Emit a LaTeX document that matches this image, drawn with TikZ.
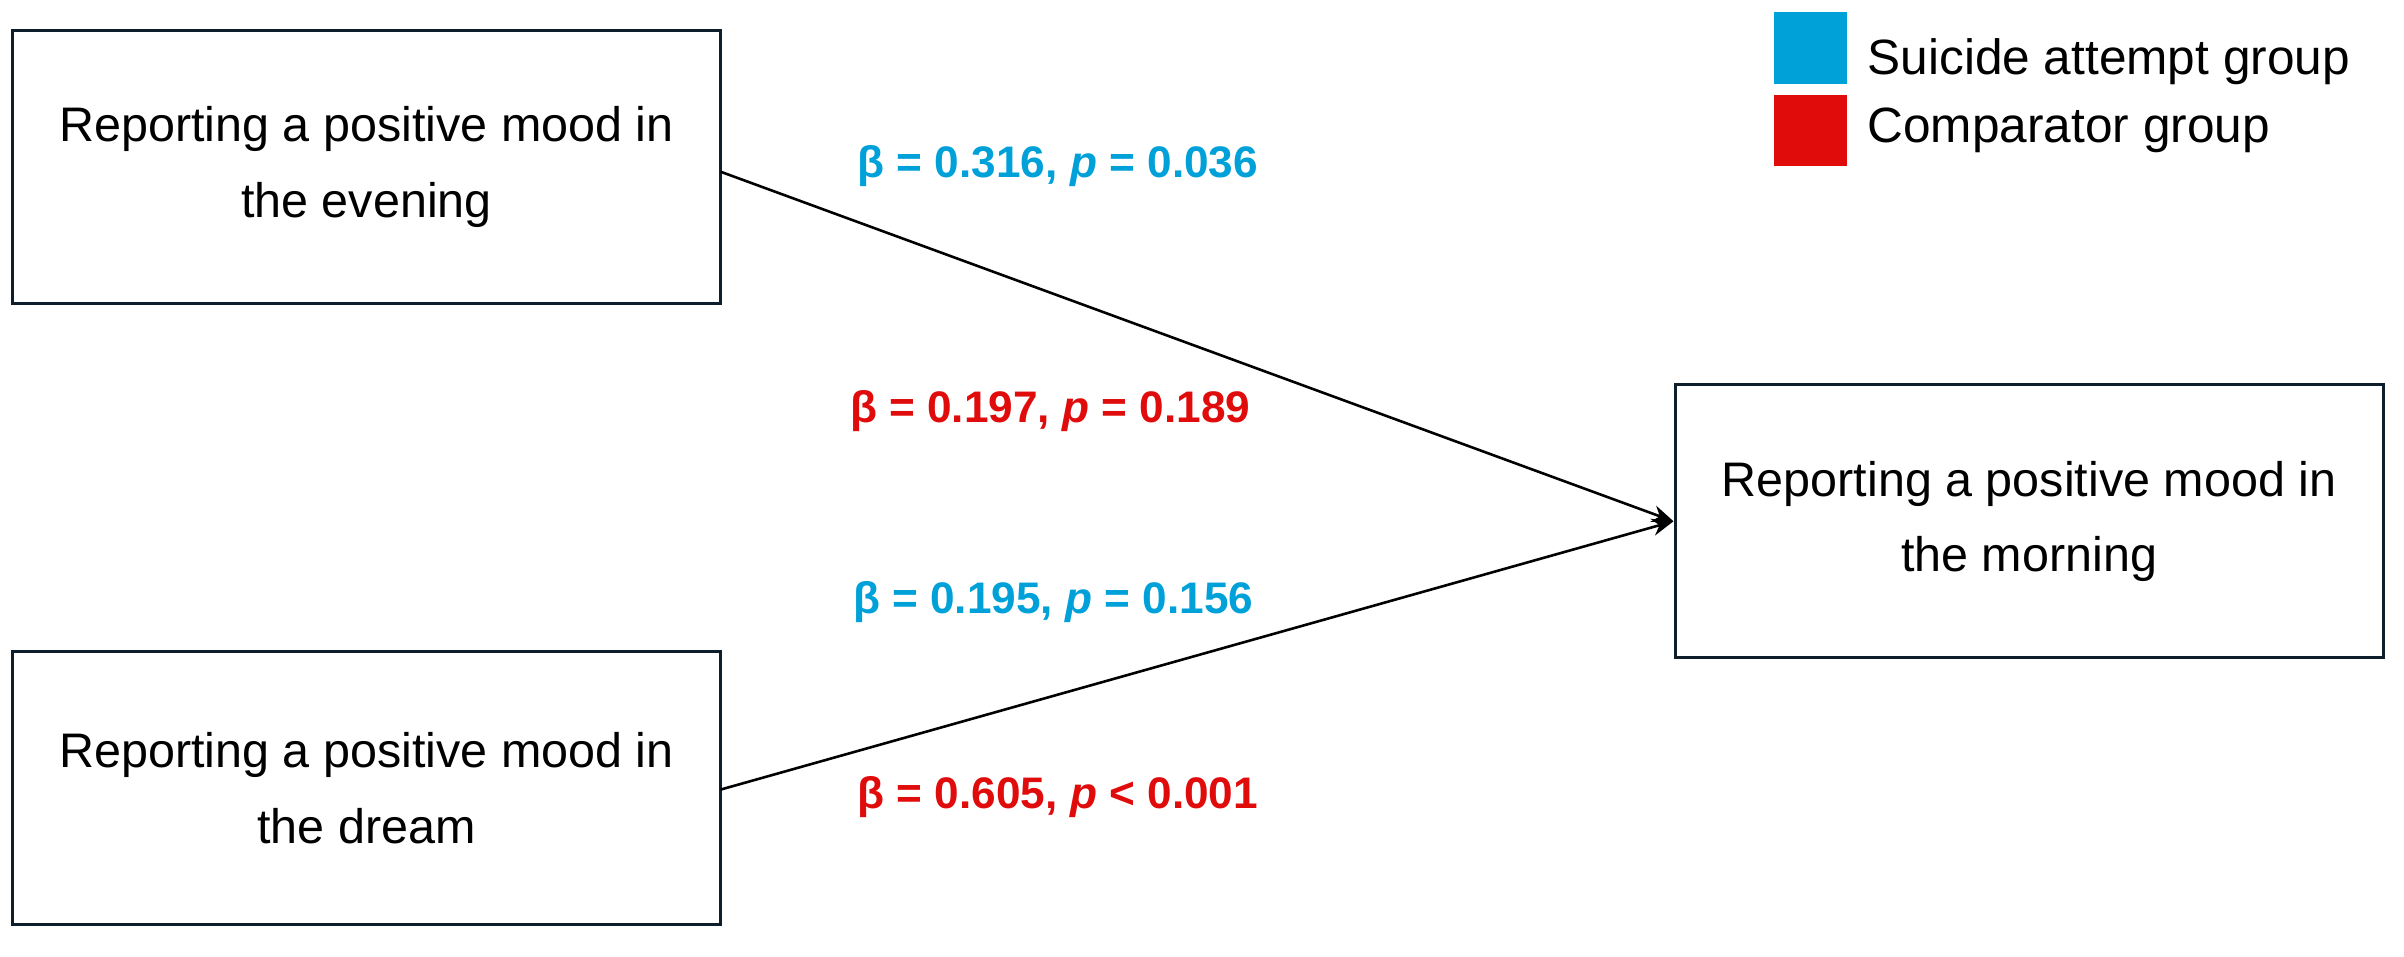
\documentclass[tikz,border=0pt]{standalone}
\usepackage{fontspec}
\setmainfont{Liberation Sans}
\usetikzlibrary{arrows.meta}
\definecolor{cblue}{HTML}{00A0D8}
\definecolor{cred}{HTML}{E00B0B}
\definecolor{edge}{HTML}{0E1E2A}
\begin{document}
\begin{tikzpicture}[x=0.05cm,y=-0.05cm,
  box/.style={draw=edge,line width=2.8pt,minimum width=23.1cm,minimum height=8.9cm,align=center,font=\fontsize{45}{70}\selectfont,inner sep=0pt},
  lab/.style={font=\fontsize{41}{46}\selectfont\bfseries,inner sep=0pt},
  leg/.style={font=\fontsize{46}{50}\selectfont,inner sep=0pt},
  arr/.style={line width=2.4pt,-{Stealth[length=20pt,width=16pt]}}]
\useasboundingbox (0,0) rectangle (1568,624);
\node[box] (a) at (239,109) {Reporting a positive mood in\\the evening};
\node[box] (b) at (239,514) {Reporting a positive mood in\\the dream};
\node[box] (c) at (1323.5,340) {Reporting a positive mood in\\the morning};
\coordinate (a1) at (470,112);
\coordinate (b1) at (470,515);
\draw[arr] (a1) -- (c.west);
\draw[arr] (b1) -- (c.west);
\node[lab,text=cblue] (l1) at (690,108) {β = 0.316, \textit{p} = 0.036};
\node[lab,text=cred] (l2) at (685,268) {β = 0.197, \textit{p} = 0.189};
\node[lab,text=cblue] (l3) at (687,393) {β = 0.195, \textit{p} = 0.156};
\node[lab,text=cred] (l4) at (690,520) {β = 0.605, \textit{p} < 0.001};
\fill[cblue] (1157,8) rectangle (1205,55);
\fill[cred] (1157,62) rectangle (1205,108);
\node[leg,anchor=west] (s) at (1218,40) {Suicide attempt group};
\node[leg,anchor=west] (k) at (1218,85) {Comparator group};
\end{tikzpicture}
\end{document}
